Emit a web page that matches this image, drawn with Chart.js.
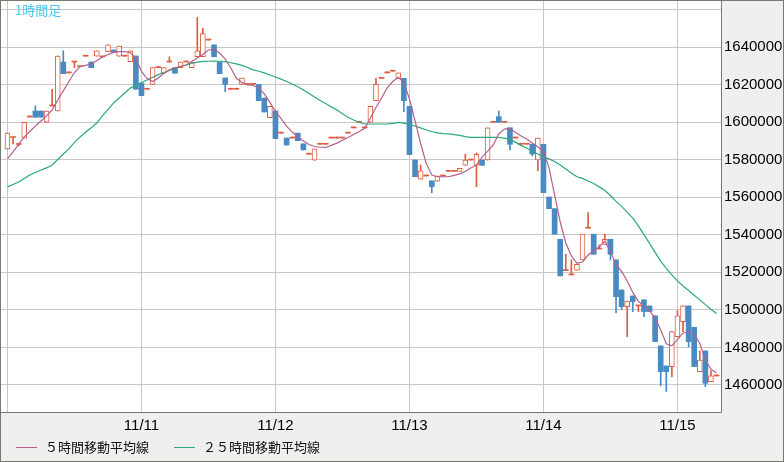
<!DOCTYPE html>
<html lang="ja">
<head>
<meta charset="utf-8">
<script src="https://cdn.jsdelivr.net/npm/chart.js@4.4.1/dist/chart.umd.min.js"></script>
<style>
  body { margin: 0; }
  #wrap { position: relative; width: 784px; height: 462px; }
  #title { position: absolute; left: 15px; top: 2px; font: 13px/16px "Noto Sans CJK JP"; color: #4cc4ee; }
  #legend { position: absolute; left: 16px; top: 439px; font: 13px/16px "Noto Sans CJK JP"; color: #111; display: flex; }
  .item { display: flex; align-items: center; margin-right: 25px; }
  .swatch { width: 21px; height: 1px; margin-right: 8px; }
</style>
</head>
<body>
<div id="wrap">
  <canvas id="candleChart" width="784" height="462"></canvas>
  <div id="title">1時間足</div>
  <div id="legend">
    <div class="item"><span class="swatch" style="background:#b5608c"></span>５時間移動平均線</div>
    <div class="item"><span class="swatch" style="background:#2aaa78"></span>２５時間移動平均線</div>
  </div>
</div>
<script>
// hourly candles, 11/10 00:00 .. 11/15 07:00
const dayLabels = ['', '11/11', '11/12', '11/13', '11/14', '11/15'];
const dayStarts = [0, 24, 48, 72, 96, 120];
const priceTicks = [14600000, 14800000, 15000000, 15200000, 15400000, 15600000, 15800000, 16000000, 16200000, 16400000];
const priceGrid = [14600000, 14800000, 15000000, 15200000, 15400000, 15600000, 15800000, 16000000, 16200000, 16400000, 16600000];

const openP = [
  15857000, 15918000, 15881000, 15915000, 16027000, 16059000, 16059000, 15999000, 16086000, 16059000,
  16320000, 16262000, 16320000, 16295000, 16351000, 16320000, 16351000, 16347000, 16375000, 16384000,
  16351000, 16351000, 16322000, 16352000, 16207000, 16175000, 16201000, 16290000, 16260000, 16320000,
  16290000, 16290000, 16320000, 16290000, 16348000, 16348000, 16437000, 16411000, 16320000, 16235000,
  16175000, 16175000, 16201000, 16201000, 16201000, 16201000, 16128000, 16024000, 16059000, 15941000,
  15915000, 15915000, 15941000, 15884000, 15829000, 15797000, 15882000, 15882000, 15915000, 15915000,
  15915000, 15941000, 15969000, 15999000, 15969000, 15999000, 16114000, 16233000, 16262000, 16271000,
  16233000, 16233000, 16084000, 15798000, 15696000, 15713000, 15687000, 15685000, 15713000, 15738000,
  15738000, 15738000, 15770000, 15798000, 15770000, 15798000, 15798000, 15999000, 16029000, 15999000,
  15970000, 15915000, 15882000, 15882000, 15882000, 15798000, 15882000, 15601000, 15539000, 15376000,
  15209000, 15186000, 15211000, 15266000, 15435000, 15403000, 15324000, 15349000, 15376000, 15266000,
  15106000, 15017000, 15074000, 15021000, 15053000, 15021000, 14968000, 14808000, 14701000, 14698000,
  14857000, 14937000, 15021000, 14907000, 14671000, 14781000, 14618000, 14648000
];
const highP = [
  15942000, 15918000, 15881000, 15999000, 16027000, 16086000, 16059000, 16059000, 16175000, 16352000,
  16380000, 16262000, 16320000, 16295000, 16351000, 16320000, 16379000, 16347000, 16411000, 16384000,
  16405000, 16351000, 16379000, 16352000, 16207000, 16175000, 16290000, 16290000, 16290000, 16348000,
  16290000, 16320000, 16320000, 16320000, 16558000, 16500000, 16437000, 16411000, 16320000, 16235000,
  16175000, 16175000, 16235000, 16201000, 16201000, 16201000, 16128000, 16084000, 16059000, 15941000,
  15915000, 15915000, 15941000, 15884000, 15829000, 15857000, 15882000, 15882000, 15915000, 15915000,
  15915000, 15941000, 15969000, 15999000, 15969000, 16084000, 16233000, 16233000, 16262000, 16271000,
  16262000, 16233000, 16084000, 15798000, 15772000, 15713000, 15687000, 15713000, 15713000, 15738000,
  15738000, 15754000, 15829000, 15798000, 15836000, 15798000, 15969000, 15999000, 16059000, 15999000,
  15970000, 15915000, 15882000, 15882000, 15882000, 15915000, 15882000, 15601000, 15539000, 15376000,
  15296000, 15266000, 15243000, 15403000, 15518000, 15403000, 15346000, 15403000, 15376000, 15266000,
  15106000, 15047000, 15074000, 15021000, 15053000, 15021000, 14968000, 14808000, 14701000, 14884000,
  14996000, 15021000, 15021000, 14907000, 14781000, 14781000, 14675000, 14648000
];
const lowP = [
  15857000, 15884000, 15873000, 15915000, 16027000, 16026000, 16026000, 15999000, 16086000, 16059000,
  16258000, 16262000, 16290000, 16295000, 16351000, 16290000, 16351000, 16347000, 16375000, 16372000,
  16351000, 16351000, 16322000, 16175000, 16141000, 16175000, 16201000, 16290000, 16260000, 16320000,
  16260000, 16290000, 16320000, 16290000, 16348000, 16348000, 16437000, 16348000, 16258000, 16162000,
  16175000, 16175000, 16201000, 16201000, 16201000, 16114000, 16054000, 16024000, 15912000, 15941000,
  15878000, 15915000, 15901000, 15852000, 15829000, 15797000, 15882000, 15882000, 15915000, 15915000,
  15915000, 15941000, 15969000, 15999000, 15969000, 15999000, 16114000, 16233000, 16262000, 16271000,
  16233000, 16056000, 15827000, 15709000, 15696000, 15713000, 15624000, 15685000, 15713000, 15738000,
  15738000, 15738000, 15770000, 15798000, 15656000, 15770000, 15798000, 15999000, 15999000, 15999000,
  15852000, 15915000, 15882000, 15882000, 15820000, 15741000, 15624000, 15539000, 15403000, 15181000,
  15209000, 15186000, 15211000, 15266000, 15435000, 15296000, 15324000, 15349000, 15266000, 14985000,
  15000000, 14857000, 14991000, 14991000, 14964000, 14991000, 14831000, 14595000, 14565000, 14644000,
  14857000, 14884000, 14804000, 14698000, 14671000, 14591000, 14618000, 14648000
];
const closeP = [
  15942000, 15918000, 15881000, 15999000, 16027000, 16026000, 16026000, 16059000, 16086000, 16352000,
  16258000, 16262000, 16320000, 16295000, 16351000, 16290000, 16379000, 16347000, 16411000, 16372000,
  16405000, 16351000, 16379000, 16175000, 16141000, 16175000, 16290000, 16290000, 16290000, 16320000,
  16260000, 16320000, 16320000, 16320000, 16379000, 16471000, 16437000, 16348000, 16258000, 16201000,
  16175000, 16175000, 16235000, 16201000, 16201000, 16114000, 16054000, 16084000, 15912000, 15941000,
  15878000, 15915000, 15901000, 15852000, 15829000, 15857000, 15882000, 15882000, 15915000, 15915000,
  15915000, 15941000, 15969000, 15999000, 15969000, 16084000, 16201000, 16233000, 16262000, 16271000,
  16262000, 16114000, 15827000, 15709000, 15741000, 15713000, 15656000, 15713000, 15713000, 15738000,
  15738000, 15754000, 15798000, 15798000, 15829000, 15770000, 15969000, 15999000, 15999000, 15999000,
  15882000, 15915000, 15882000, 15882000, 15830000, 15915000, 15624000, 15539000, 15403000, 15181000,
  15209000, 15186000, 15243000, 15403000, 15435000, 15296000, 15324000, 15376000, 15296000, 15070000,
  15017000, 15047000, 15044000, 15021000, 14991000, 14991000, 14831000, 14671000, 14671000, 14884000,
  14968000, 15021000, 14831000, 14698000, 14733000, 14609000, 14648000, 14648000
];
const ma5 = [
  15806000, 15841000, 15881000, 15921000, 15950000, 15979000, 16006000, 16033000, 16065000, 16118000,
  16166000, 16216000, 16264000, 16296000, 16302000, 16310000, 16328000, 16347000, 16360000, 16371000,
  16375000, 16375000, 16371000, 16339000, 16270000, 16232000, 16216000, 16235000, 16259000, 16278000,
  16289000, 16296000, 16304000, 16323000, 16341000, 16360000, 16384000, 16387000, 16368000, 16336000,
  16288000, 16233000, 16211000, 16198000, 16195000, 16182000, 16150000, 16105000, 16057000, 16019000,
  15979000, 15947000, 15923000, 15899000, 15881000, 15870000, 15866000, 15865000, 15876000, 15888000,
  15903000, 15918000, 15934000, 15950000, 15967000, 16022000, 16078000, 16128000, 16182000, 16216000,
  16239000, 16211000, 16123000, 16006000, 15886000, 15780000, 15718000, 15709000, 15709000, 15709000,
  15716000, 15724000, 15737000, 15756000, 15772000, 15814000, 15844000, 15878000, 15937000, 15963000,
  15966000, 15945000, 15926000, 15910000, 15889000, 15868000, 15846000, 15756000, 15612000, 15468000,
  15356000, 15287000, 15248000, 15255000, 15292000, 15316000, 15335000, 15367000, 15308000, 15242000,
  15205000, 15154000, 15093000, 15045000, 15021000, 14994000, 14957000, 14893000, 14819000, 14808000,
  14842000, 14877000, 14882000, 14869000, 14822000, 14733000, 14683000, 14664000
];
const ma25 = [
  15655000, 15668000, 15681000, 15700000, 15718000, 15732000, 15745000, 15756000, 15772000, 15801000,
  15830000, 15857000, 15892000, 15921000, 15946000, 15970000, 15995000, 16033000, 16067000, 16102000,
  16128000, 16155000, 16181000, 16196000, 16211000, 16224000, 16239000, 16253000, 16264000, 16275000,
  16286000, 16296000, 16304000, 16312000, 16319000, 16323000, 16324000, 16325000, 16324000, 16322000,
  16316000, 16310000, 16302000, 16291000, 16278000, 16271000, 16262000, 16251000, 16240000, 16229000,
  16216000, 16203000, 16188000, 16171000, 16152000, 16134000, 16115000, 16099000, 16081000, 16064000,
  16044000, 16026000, 16011000, 15998000, 15990000, 15990000, 15990000, 15990000, 15990000, 15993000,
  15999000, 15995000, 15988000, 15979000, 15969000, 15958000, 15950000, 15943000, 15939000, 15937000,
  15933000, 15929000, 15923000, 15919000, 15919000, 15919000, 15919000, 15919000, 15919000, 15915000,
  15908000, 15892000, 15876000, 15861000, 15845000, 15830000, 15815000, 15804000, 15790000, 15772000,
  15750000, 15729000, 15709000, 15700000, 15686000, 15673000, 15655000, 15636000, 15609000, 15578000,
  15551000, 15519000, 15489000, 15447000, 15401000, 15354000, 15306000, 15260000, 15221000, 15186000,
  15154000, 15127000, 15103000, 15078000, 15053000, 15028000, 15003000, 14981000
];

const UP = '#dc5d40';
const DOWN = '#4a8ac3';

const dir = (i) => closeP[i] > openP[i] ? 1 : (closeP[i] < openP[i] ? -1 : 0);

// plot background, outer frame and plot border
const frame = {
  id: 'frame',
  beforeDraw(chart) {
    const { ctx, chartArea: a, width, height } = chart;
    ctx.save();
    ctx.fillStyle = '#efefef';
    ctx.fillRect(0, 0, width, height);
    ctx.fillStyle = '#ffffff';
    ctx.fillRect(a.left, a.top, a.right - a.left, a.bottom - a.top);
    ctx.restore();
  },
  afterDraw(chart) {
    const { ctx, chartArea: a, width, height } = chart;
    ctx.save();
    ctx.strokeStyle = '#78786f';
    ctx.lineWidth = 1;
    ctx.strokeRect(0.5, 0.5, width - 1, height - 1);
    ctx.beginPath();
    ctx.moveTo(a.right + 0.5, 0);
    ctx.lineTo(a.right + 0.5, a.bottom + 0.5);
    ctx.lineTo(0, a.bottom + 0.5);
    ctx.stroke();
    ctx.restore();
  }
};

const ctx = document.getElementById('candleChart').getContext('2d');

new Chart(ctx, {
  type: 'bar',
  data: {
    datasets: [
      {
        type: 'line',
        label: '５時間移動平均線',
        data: ma5.map((v, i) => ({ x: i, y: v })),
        borderColor: '#b5608c',
        borderWidth: 1.2,
        pointRadius: 0,
        order: 0
      },
      {
        type: 'line',
        label: '２５時間移動平均線',
        data: ma25.map((v, i) => ({ x: i, y: v })),
        borderColor: '#2aaa78',
        borderWidth: 1.2,
        pointRadius: 0,
        order: 0
      },
      {
        label: 'body',
        data: openP.map((o, i) => ({ x: i, y: [o, closeP[i]] })),
        grouped: false,
        barThickness: 5,
        minBarLength: 1,
        borderSkipped: false,
        backgroundColor: (c) => { const d = dir(c.dataIndex); return d > 0 ? '#ffffff' : (d < 0 ? DOWN : UP); },
        borderColor: (c) => dir(c.dataIndex) < 0 ? DOWN : UP,
        borderWidth: (c) => dir(c.dataIndex) > 0 ? 1 : 0,
        order: 1
      },
      {
        label: 'wick',
        data: lowP.map((l, i) => ({ x: i, y: [l, highP[i]] })),
        grouped: false,
        barThickness: 1,
        minBarLength: 1,
        backgroundColor: (c) => dir(c.dataIndex) < 0 ? DOWN : UP,
        borderWidth: 0,
        order: 2
      }
    ]
  },
  options: {
    responsive: false,
    animation: false,
    events: [],
    devicePixelRatio: 1,
    layout: { padding: { left: 1, top: 1, right: 0, bottom: 30 } },
    plugins: { legend: { display: false }, tooltip: { enabled: false } },
    scales: {
      x: {
        type: 'linear',
        min: -1.16,
        max: 127.8,
        offset: false,
        grid: { color: '#c8c8c8', drawTicks: false, offset: false },
        border: { display: false },
        afterBuildTicks: (s) => { s.ticks = dayStarts.map(v => ({ value: v })); },
        afterFit: (s) => { s.height = 20; s.paddingLeft = 0; s.paddingRight = 0; },
        ticks: {
          autoSkip: false,
          maxRotation: 0,
          padding: 5,
          color: '#000',
          font: { family: "'Liberation Sans', sans-serif", size: 15 },
          callback: (v) => dayLabels[dayStarts.indexOf(v)] || ''
        }
      },
      y: {
        position: 'right',
        min: 14456000,
        max: 16645000,
        grid: { color: '#c8c8c8', drawTicks: false },
        border: { display: false },
        afterBuildTicks: (s) => { s.ticks = priceGrid.map(v => ({ value: v })); },
        afterFit: (s) => { s.width = 63; s.paddingTop = 0; s.paddingBottom = 0; },
        ticks: {
          autoSkip: false,
          padding: 3,
          color: '#000',
          font: { family: "'Liberation Sans', sans-serif", size: 15 },
          callback: (v) => priceTicks.includes(v) ? String(v) : ''
        }
      }
    }
  },
  plugins: [frame]
});
</script>
</body>
</html>
